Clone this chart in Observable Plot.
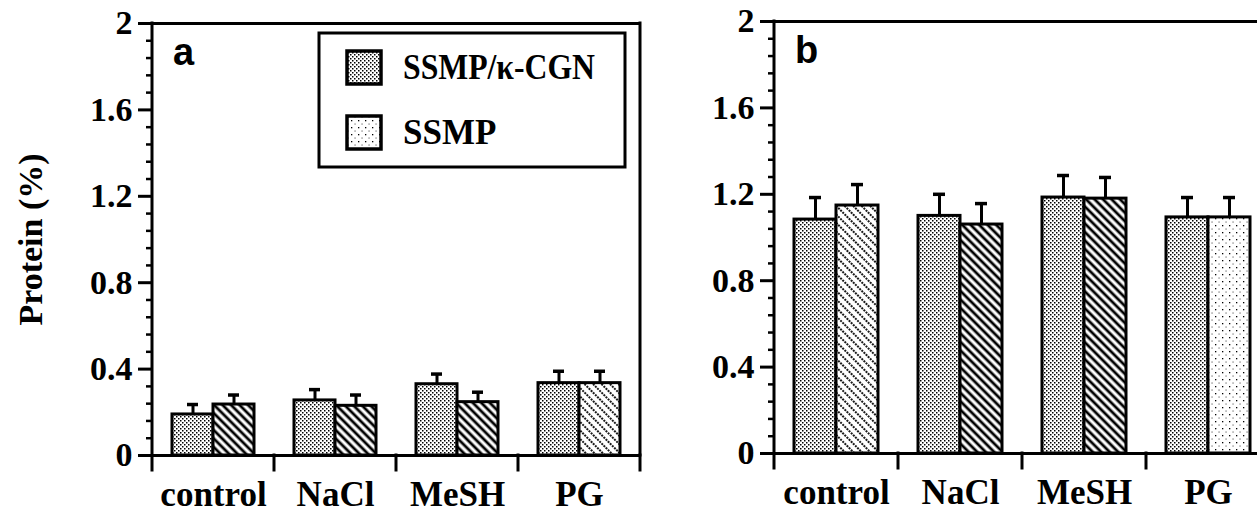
<!DOCTYPE html>
<html><head><meta charset="utf-8">
<script src="https://cdn.jsdelivr.net/npm/d3@7"></script>
<script src="https://cdn.jsdelivr.net/npm/@observablehq/plot@0.6"></script>
<style>
html,body{margin:0;padding:0;background:#fff;overflow:hidden;}
#wrap{position:relative;width:1257px;height:515px;overflow:hidden;background:#fff;}
#pa{position:absolute;left:0;top:0;width:660px;}
#pb{position:absolute;left:660px;top:0;width:610px;}
</style></head><body>
<div id="wrap">
<svg width="0" height="0" style="position:absolute;left:0;top:0">
<defs>
 <pattern id="dots" patternUnits="userSpaceOnUse" width="4" height="4">
  <rect width="4" height="4" fill="#fff"/>
  <rect x="0" y="0" width="1.5" height="1.5" fill="#000"/>
  <rect x="2" y="2" width="1.5" height="1.5" fill="#000"/>
 </pattern>
 <pattern id="hatch" patternUnits="userSpaceOnUse" width="6" height="6" patternTransform="rotate(-45)">
  <rect width="6" height="6" fill="#fff"/>
  <line x1="3" y1="-1" x2="3" y2="7" stroke="#000" stroke-width="2.8"/>
 </pattern>
 <pattern id="dashhatch" patternUnits="userSpaceOnUse" width="6" height="6" patternTransform="rotate(-45)">
  <rect width="6" height="6" fill="#fff"/>
  <line x1="3" y1="0" x2="3" y2="6" stroke="#000" stroke-width="1.8" stroke-dasharray="2 1"/>
 </pattern>
 <pattern id="sparse" patternUnits="userSpaceOnUse" width="7" height="7">
  <rect width="7" height="7" fill="#fff"/>
  <rect x="1" y="1" width="1.3" height="1.3" fill="#000"/>
  <rect x="4.5" y="4.5" width="1.1" height="1.1" fill="#555"/>
 </pattern>
</defs></svg>
<div id="pa"></div>
<div id="pb"></div>
</div>
<script>
// ---- data ----
const categories = ["control", "NaCl", "MeSH", "PG"];
const seriesNames = ["SSMP/κ-CGN", "SSMP"];
// panel a
const aCgn = [0.19, 0.255, 0.33, 0.335];
const aCgnErr = [0.046, 0.05, 0.047, 0.055];
const aSsmp = [0.236, 0.23, 0.247, 0.335];
const aSsmpErr = [0.044, 0.05, 0.046, 0.055];
// panel b
const bCgn = [1.083, 1.10, 1.185, 1.093];
const bCgnErr = [0.102, 0.10, 0.102, 0.092];
const bSsmp = [1.148, 1.06, 1.18, 1.093];
const bSsmpErr = [0.097, 0.097, 0.098, 0.092];
// axis ticks
const yTicks = [0, 0.4, 0.8, 1.2, 1.6, 2];
const yTickLabels = ["0", "0.4", "0.8", "1.2", "1.6", "2"];
const yMinorStep = 0.08;
const yTitle = "Protein (%)";
const panelLetters = ["a", "b"];

// ---- styles ----
const cgnFill = "url(#dots)";
const aSsmpFills = ["url(#hatch)", "url(#hatch)", "url(#hatch)", "url(#dashhatch)"];
const bSsmpFills = ["url(#dashhatch)", "url(#hatch)", "url(#hatch)", "url(#sparse)"];
const legendFills = ["url(#dots)", "url(#sparse)"];
const serif = "'Liberation Serif','Times New Roman',serif";
const sans = "'Liberation Sans',Arial,sans-serif";

function makePanel({v1, e1, v2, e2, fills2, width, marginLeft, marginRight, marginTop, marginBottom, ylabel}) {
  const rows = categories.flatMap((c, i) => [
    {cat: c, ser: seriesNames[0], v: v1[i], e: e1[i], fill: cgnFill},
    {cat: c, ser: seriesNames[1], v: v2[i], e: e2[i], fill: fills2[i]}
  ]);
  const minor = d3.range(0, 2.0001, yMinorStep).filter(t => !yTicks.some(m => Math.abs(m - t) < 1e-6));
  return Plot.plot({
    width, height: 515, marginLeft, marginRight, marginTop, marginBottom,
    style: {background: "#fff", color: "#000", fontFamily: serif, fontWeight: "bold", maxWidth: "none", overflow: "visible"},
    fx: {domain: categories, padding: 0},
    x: {domain: seriesNames, paddingInner: 0, paddingOuter: 0.47, axis: null},
    y: {domain: [0, 2]},
    color: {type: "identity"},
    marks: [
      Plot.barY(rows, {fx: "cat", x: "ser", y: "v", fill: "fill", stroke: "#000", strokeWidth: 3}),
      Plot.ruleX(rows, {fx: "cat", x: "ser", y1: "v", y2: d => d.v + d.e, stroke: "#000", strokeWidth: 3}),
      Plot.tickY(rows, {fx: "cat", x: "ser", y: d => d.v + d.e, stroke: "#000", strokeWidth: 3.5, insetLeft: 15, insetRight: 15}),
      Plot.ruleY([0], {stroke: "#000", strokeWidth: 3}),
      Plot.ruleY([2], {stroke: "#000", strokeWidth: 3}),
      Plot.axisY({ticks: minor, tickSize: 6, strokeWidth: 2.5, tickFormat: () => "", label: null}),
      Plot.axisY({ticks: yTicks, tickSize: 14, tickPadding: 6, strokeWidth: 3, fontSize: 34,
        tickFormat: d => yTickLabels[yTicks.indexOf(d)],
        label: ylabel ?? null, labelArrow: "none", labelAnchor: "center", labelOffset: 135}),
      Plot.axisFx({anchor: "bottom", tickSize: 0, tickPadding: 26, fontSize: 35, label: null})
    ]
  });
}

function decorate(chart, letter, withLegend) {
  const svg = d3.select(chart);
  const y = chart.scale("y"), fx = chart.scale("fx");
  const y0 = y.apply(0), y2 = y.apply(2);
  const edges = categories.map(c => fx.apply(c));
  const bw = fx.bandwidth ?? (edges[1] - edges[0]);
  edges.push(edges[edges.length - 1] + bw);
  const g = svg.append("g").attr("stroke", "#000").attr("stroke-width", 3).attr("stroke-linecap", "square");
  g.append("line").attr("x1", edges[0]).attr("x2", edges[0]).attr("y1", y2).attr("y2", y0 + 15);
  edges.slice(1).forEach(x => g.append("line").attr("x1", x).attr("x2", x).attr("y1", y0).attr("y2", y0 + 15));
  g.append("line").attr("x1", edges[4]).attr("x2", edges[4]).attr("y1", y2).attr("y2", y0);
  svg.append("text").attr("x", edges[0] + 21).attr("y", y2 + 42).attr("text-anchor", "start")
    .attr("font-family", sans).attr("font-weight", "bold").attr("font-size", 38).attr("fill", "#000").text(letter);
  if (withLegend) {
    const lx0 = edges[0] + 167, lx1 = edges[4] - 15, ly0 = y2 + 10, ly1 = y2 + 144;
    const lg = svg.append("g").attr("text-anchor", "start");
    lg.append("rect").attr("x", lx0).attr("y", ly0).attr("width", lx1 - lx0).attr("height", ly1 - ly0)
      .attr("fill", "#fff").attr("stroke", "#000").attr("stroke-width", 3);
    seriesNames.forEach((name, i) => {
      const sy = ly0 + 18 + i * 65;
      lg.append("rect").attr("x", lx0 + 28).attr("y", sy).attr("width", 34).attr("height", 33)
        .attr("fill", legendFills[i]).attr("stroke", "#000").attr("stroke-width", 3.5);
      const t = lg.append("text").attr("x", lx0 + 84).attr("y", sy + 28).attr("text-anchor", "start")
        .attr("font-family", serif).attr("font-weight", "bold").attr("font-size", 35).attr("fill", "#000").text(name);
      if (i === 0) t.attr("textLength", 192).attr("lengthAdjust", "spacingAndGlyphs");
    });
  }
}

const chartA = makePanel({v1: aCgn, e1: aCgnErr, v2: aSsmp, e2: aSsmpErr, fills2: aSsmpFills,
  width: 660, marginLeft: 152, marginRight: 20, marginTop: 23, marginBottom: 60, ylabel: yTitle});
document.getElementById("pa").append(chartA);
decorate(chartA, panelLetters[0], true);

const chartB = makePanel({v1: bCgn, e1: bCgnErr, v2: bSsmp, e2: bSsmpErr, fills2: bSsmpFills,
  width: 610, marginLeft: 114, marginRight: 0, marginTop: 21, marginBottom: 62, ylabel: null});
document.getElementById("pb").append(chartB);
decorate(chartB, panelLetters[1], false);
</script>
</body></html>
